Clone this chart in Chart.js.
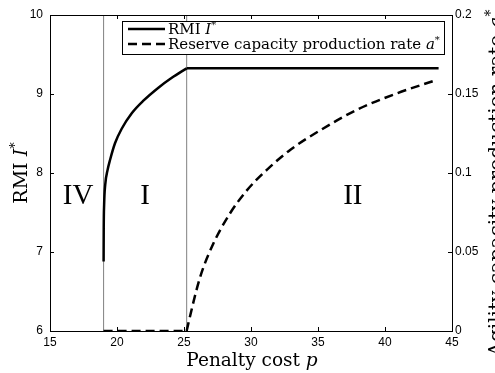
<!DOCTYPE html>
<html>
<head>
<meta charset="utf-8">
<script src="https://cdn.jsdelivr.net/npm/chart.js@4.4.1/dist/chart.umd.min.js"></script>
<style>
  html, body { margin: 0; padding: 0; background: #fff; }
  #wrap { width: 495px; height: 373px; }
</style>
</head>
<body>
<div id="wrap"><canvas id="chart"></canvas></div>
<script>
// данные
const penaltyRmi = [19.0, 19.01, 19.04, 19.12, 19.3, 19.48, 19.85, 20.35, 21.1, 21.97, 23.09, 24.09, 25.2, 44.0];
const rmiValues  = [6.88, 7.3, 7.6, 7.85, 8.04, 8.165, 8.376, 8.56, 8.756, 8.915, 9.08, 9.205, 9.325, 9.325];

const penaltyRate = [19.0, 25.2, 25.33, 26.2, 27.2, 28.44, 29.69, 31.18, 32.92, 35.16, 37.9, 40.89, 43.88];
const rateValues  = [0, 0, 0.005, 0.034, 0.0555, 0.0745, 0.089, 0.102, 0.1146, 0.127, 0.14, 0.1504, 0.159];

const thresholds = [19.0, 25.2];
const regionNames = ['IV', 'I', 'II'];
const regionPenalty = [17.1, 22.1, 37.6];
const regionLevel = 7.7;

const xRange = [15, 45];
const rmiRange = [6, 10];
const rateRange = [0, 0.2];

const SERIF = '"DejaVu Serif", serif';
const SANS = '"Liberation Sans", Arial, sans-serif';

function toPoints(xs, ys) {
    return xs.map((x, i) => ({ x: x, y: ys[i] }));
}

// текст из кусков: [строка, шрифт, сдвиг по вертикали]
function drawParts(ctx, parts, x, y, align) {
    let total = 0;
    parts.forEach(p => { ctx.font = p[1]; total += ctx.measureText(p[0]).width; });
    let cx = align === 'center' ? x - total / 2 : x;
    ctx.textAlign = 'left';
    parts.forEach(p => {
        ctx.font = p[1];
        ctx.fillText(p[0], cx, y + (p[2] || 0));
        cx += ctx.measureText(p[0]).width;
    });
}

const decorPlugin = {
    id: 'decor',
    afterDraw(chart) {
        const ctx = chart.ctx;
        const a = chart.chartArea;
        const sx = chart.scales.x, sy = chart.scales.y, sr = chart.scales.y1;
        ctx.save();
        ctx.strokeStyle = '#000';
        ctx.fillStyle = '#000';
        ctx.lineWidth = 1;

        // рамка
        ctx.strokeRect(Math.round(a.left) + 0.5, Math.round(a.top) + 0.5,
            Math.round(a.right - a.left), Math.round(a.bottom - a.top));

        // засечки внутрь
        const tl = 4;
        ctx.beginPath();
        sx.ticks.forEach(t => {
            const px = Math.round(sx.getPixelForValue(t.value)) + 0.5;
            ctx.moveTo(px, a.bottom); ctx.lineTo(px, a.bottom - tl);
            ctx.moveTo(px, a.top); ctx.lineTo(px, a.top + tl);
        });
        sy.ticks.forEach(t => {
            const py = Math.round(sy.getPixelForValue(t.value)) + 0.5;
            ctx.moveTo(a.left, py); ctx.lineTo(a.left + tl, py);
        });
        sr.ticks.forEach(t => {
            const py = Math.round(sr.getPixelForValue(t.value)) + 0.5;
            ctx.moveTo(a.right, py); ctx.lineTo(a.right - tl, py);
        });
        ctx.stroke();

        // подписи областей
        ctx.textBaseline = 'middle';
        ctx.textAlign = 'center';
        ctx.font = '29px "Liberation Serif", serif';
        regionNames.forEach((n, i) => {
            ctx.fillText(n, sx.getPixelForValue(regionPenalty[i]), sy.getPixelForValue(regionLevel));
        });

        // подписи осей
        ctx.textBaseline = 'alphabetic';
        drawParts(ctx, [['Penalty cost ', '18.5px ' + SERIF], ['p', 'italic 18.5px ' + SERIF]],
            (a.left + a.right) / 2 + 1, 366, 'center');

        ctx.save();
        ctx.translate(27, (a.top + a.bottom) / 2);
        ctx.rotate(-Math.PI / 2);
        drawParts(ctx, [['RMI ', '19px ' + SERIF], ['I', 'italic 19px ' + SERIF], ['*', '13px ' + SERIF, -8]], 0, 0, 'center');
        ctx.restore();

        ctx.save();
        ctx.translate(503, 183);
        ctx.rotate(-Math.PI / 2);
        drawParts(ctx, [['Agility capacity production rate ', '20px ' + SERIF], ['a', 'italic 20px ' + SERIF], ['*', '14px ' + SERIF, -8]], 0, 0, 'center');
        ctx.restore();

        // легенда
        const lx = 122, ly = 21, lw = 322, lh = 33;
        ctx.fillStyle = '#fff';
        ctx.fillRect(lx, ly, lw, lh);
        ctx.strokeRect(lx + 0.5, ly + 0.5, lw, lh);
        ctx.lineWidth = 2.5;
        ctx.beginPath();
        ctx.moveTo(128, 29); ctx.lineTo(165, 29);
        ctx.stroke();
        ctx.setLineDash([9, 5]);
        ctx.beginPath();
        ctx.moveTo(128, 44); ctx.lineTo(165, 44);
        ctx.stroke();
        ctx.setLineDash([]);
        ctx.fillStyle = '#000';
        drawParts(ctx, [['RMI ', '15px ' + SERIF], ['I', 'italic 15px ' + SERIF], ['*', '10px ' + SERIF, -6]], 168, 34, 'left');
        drawParts(ctx, [['Reserve capacity production rate ', '15px ' + SERIF], ['a', 'italic 15px ' + SERIF], ['*', '10px ' + SERIF, -6]], 168, 49, 'left');

        ctx.restore();
    }
};

const tickFont = { family: SANS, size: 12 };
const nR = penaltyRmi.length;

const lineStyle = { borderColor: '#000', borderWidth: 2.5, pointRadius: 0, cubicInterpolationMode: 'monotone' };

new Chart(document.getElementById('chart'), {
    type: 'line',
    data: {
        datasets: [
            // кривая RMI до излома и горизонтальный участок
            Object.assign({ label: 'RMI I*', yAxisID: 'y',
                data: toPoints(penaltyRmi.slice(0, nR - 1), rmiValues.slice(0, nR - 1)) }, lineStyle),
            Object.assign({ label: 'RMI I* (flat)', yAxisID: 'y',
                data: toPoints(penaltyRmi.slice(nR - 2), rmiValues.slice(nR - 2)) }, lineStyle),
            // резервная мощность: нулевой участок и рост
            Object.assign({ label: 'Reserve capacity production rate a*', yAxisID: 'y1', borderDash: [9, 5],
                data: toPoints(penaltyRate.slice(0, 2), rateValues.slice(0, 2)) }, lineStyle),
            Object.assign({ label: 'Reserve capacity (growth)', yAxisID: 'y1', borderDash: [9, 5],
                data: toPoints(penaltyRate.slice(1), rateValues.slice(1)) }, lineStyle),
            ...thresholds.map(t => ({
                label: 'p = ' + t,
                data: toPoints([t, t], rmiRange),
                yAxisID: 'y',
                borderColor: '#808080',
                borderWidth: 1,
                pointRadius: 0
            }))
        ]
    },
    options: {
        responsive: true,
        maintainAspectRatio: false,
        animation: false,
        devicePixelRatio: 1,
        layout: { padding: { top: 15, left: 0, right: 0, bottom: 0 } },
        plugins: { legend: { display: false }, tooltip: { enabled: false } },
        scales: {
            x: {
                type: 'linear', position: 'bottom',
                min: xRange[0], max: xRange[1],
                ticks: { stepSize: 5, padding: 4, color: '#000', font: tickFont, maxRotation: 0 },
                grid: { display: false, drawTicks: false },
                border: { display: false },
                afterFit(s) { s.height = 42; }
            },
            y: {
                type: 'linear', position: 'left',
                min: rmiRange[0], max: rmiRange[1],
                ticks: { stepSize: 1, padding: 7, color: '#000', font: tickFont },
                grid: { display: false, drawTicks: false },
                border: { display: false },
                afterFit(s) { s.width = 50; }
            },
            y1: {
                type: 'linear', position: 'right',
                min: rateRange[0], max: rateRange[1],
                ticks: { stepSize: 0.05, padding: 3, color: '#000', font: tickFont,
                    callback: v => String(+v.toFixed(2)) },
                grid: { display: false, drawTicks: false },
                border: { display: false },
                afterFit(s) { s.width = 43; }
            }
        }
    },
    plugins: [decorPlugin]
});
</script>
</body>
</html>
